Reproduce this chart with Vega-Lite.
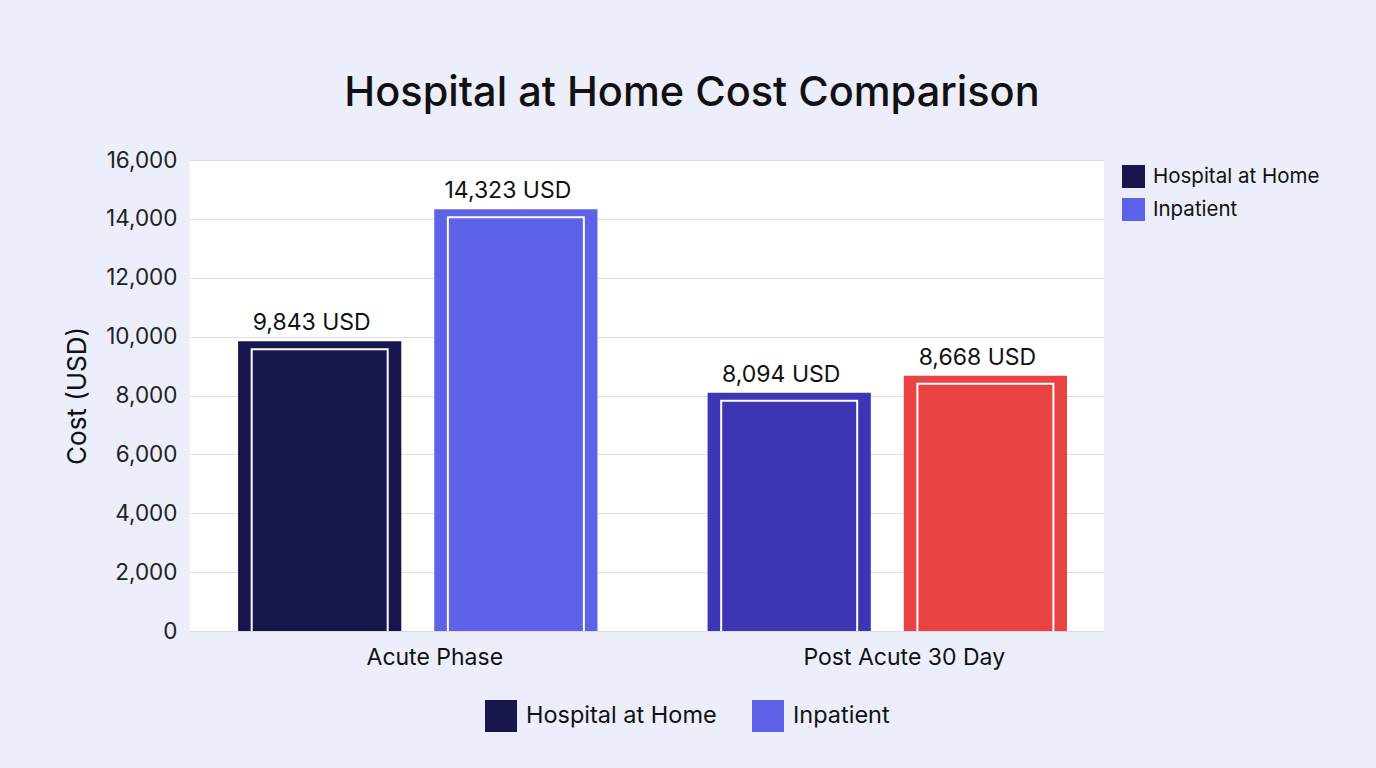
{
  "$schema": "https://vega.github.io/schema/vega-lite/v6.json",
  "width": 914,
  "height": 471,
  "autosize": {"type": "none"},
  "padding": {"left": 190, "top": 160, "right": 272, "bottom": 137},
  "background": "#eceffb",
  "config": {"font": "Inter", "view": {"stroke": null, "fill": "#ffffff"}},
  "title": {"text": "Hospital at Home Cost Comparison", "fontSize": 41.5, "fontWeight": 500, "color": "#111111", "anchor": "middle", "dx": 45, "offset": 35},
  "data": {"values": [
    {"phase": "Acute Phase", "series": "Hospital at Home", "bar": "Acute HaH", "cost": 9843, "label": "9,843 USD"},
    {"phase": "Acute Phase", "series": "Inpatient", "bar": "Acute Inpatient", "cost": 14323, "label": "14,323 USD"},
    {"phase": "Post Acute 30 Day", "series": "Hospital at Home", "bar": "Post HaH", "cost": 8094, "label": "8,094 USD"},
    {"phase": "Post Acute 30 Day", "series": "Inpatient", "bar": "Post Inpatient", "cost": 8668, "label": "8,668 USD"}
  ]},
  "encoding": {
    "x": {"field": "phase", "type": "nominal", "sort": null,
      "scale": {"paddingInner": 0.2345, "paddingOuter": 0.0906, "align": 0.565},
      "axis": {"title": null, "labelAngle": 0, "labelFontSize": 23, "labelLimit": 0, "labelColor": "#111111", "labelPadding": 15, "labelOffset": 17, "ticks": false, "domain": true, "domainColor": "#dddddd", "grid": false}},
    "xOffset": {"field": "series", "type": "nominal", "sort": null, "scale": {"paddingInner": 0.168, "paddingOuter": 0}},
    "y": {"field": "cost", "type": "quantitative", "scale": {"domain": [0, 16000], "nice": false},
      "axis": {"title": "Cost (USD)", "titleFontSize": 26, "titleFontWeight": 400, "titleColor": "#111111", "titlePadding": 15, "labelFontSize": 22.5, "labelColor": "#222222", "labelPadding": 13, "labelOverlap": false, "ticks": false, "domain": false, "gridColor": "#e0e0e0", "values": [0, 2000, 4000, 6000, 8000, 10000, 12000, 14000, 16000]}}
  },
  "layer": [
    {"mark": {"type": "bar"},
     "encoding": {"color": {"field": "bar", "type": "nominal", "legend": null,
       "scale": {"domain": ["Acute HaH", "Acute Inpatient", "Post HaH", "Post Inpatient"], "range": ["#17174d", "#5d62e8", "#3d35b4", "#ea4343"]}}}},
    {"mark": {"type": "bar", "size": 136, "fill": "transparent", "stroke": "#ffffff", "strokeWidth": 2, "yOffset": 8, "y2Offset": 2, "clip": true}},
    {"mark": {"type": "text", "fontSize": 23, "color": "#111111", "baseline": "alphabetic", "dy": -11, "dx": -8},
     "encoding": {"text": {"field": "label", "type": "nominal"}}},
    {"mark": {"type": "bar", "opacity": 0},
     "encoding": {"color": {"field": "series", "type": "nominal",
       "scale": {"domain": ["Hospital at Home", "Inpatient"], "range": ["#17174d", "#5d62e8"]},
       "legend": {"orient": "none", "legendX": 932, "legendY": 5, "direction": "vertical", "title": null, "symbolType": "square", "symbolSize": 529, "symbolOpacity": 1, "symbolStrokeWidth": 0, "labelFontSize": 20.5, "labelLimit": 0, "labelColor": "#111111", "labelOffset": 8, "rowPadding": 10}}}},
    {"mark": {"type": "bar", "opacity": 0},
     "encoding": {"color": {"field": "series", "type": "nominal",
       "scale": {"domain": ["Hospital at Home", "Inpatient"], "range": ["#17174d", "#5d62e8"]},
       "legend": {"orient": "none", "legendX": 295, "legendY": 540, "direction": "horizontal", "title": null, "symbolType": "square", "symbolSize": 1024, "symbolOpacity": 1, "symbolStrokeWidth": 0, "labelFontSize": 23.5, "labelLimit": 0, "labelColor": "#111111", "labelOffset": 9, "columnPadding": 35}}}}
  ],
  "resolve": {"scale": {"color": "independent"}, "legend": {"color": "independent"}}
}
